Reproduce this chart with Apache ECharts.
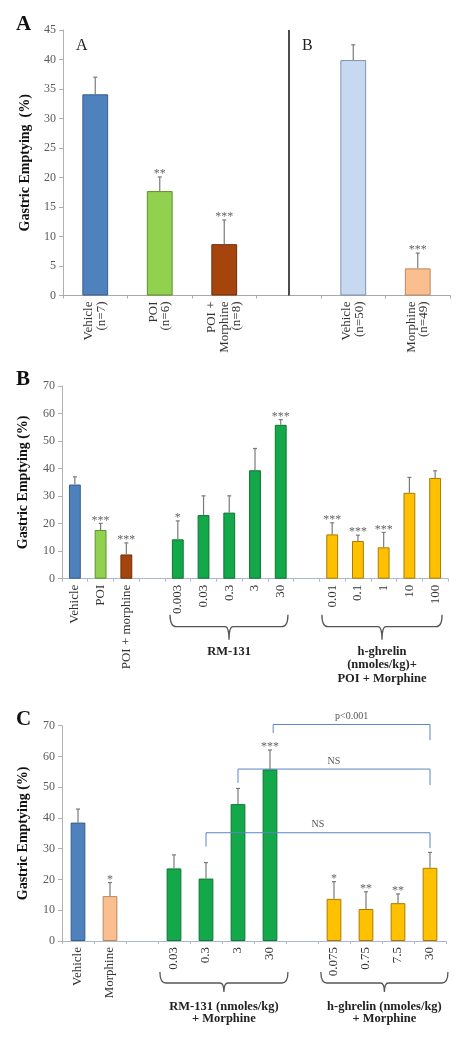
<!DOCTYPE html>
<html><head><meta charset="utf-8">
<script src="https://cdn.jsdelivr.net/npm/echarts@6/dist/echarts.min.js"></script>
<style>html,body{margin:0;padding:0;background:#fff}#c{width:462px;height:1037px}</style>
</head><body><div id="c"></div>
<script>
// ---------- Panel A ----------
const aCategories = ['Vehicle\n(n=7)', 'POI\n(n=6)', 'POI +\nMorphine\n(n=8)', '', 'Vehicle\n(n=50)', 'Morphine\n(n=49)'];
const aMeans = [34.1, 17.7, 8.7, null, 39.9, 4.6];
const aErrTops = [37.0, 20.1, 12.8, null, 42.5, 7.2];
const aSignif = ['', '**', '***', '', '', '***'];
const aYTicks = { min: 0, max: 45, interval: 5 };

// ---------- Panel B ----------
const bCategories = ['Vehicle', 'POI', 'POI + morphine', '', '0.003', '0.03', '0.3', '3', '30', ' ', '0.01', '0.1', '1', '10', '100'];
const bMeans = [34.2, 17.7, 8.8, null, 14.3, 23.1, 24.0, 39.4, 55.9, null, 16.1, 13.7, 11.4, 31.2, 36.6];
const bErrTops = [37.0, 20.1, 13.0, null, 21.0, 30.1, 30.1, 47.3, 57.8, null, 20.3, 15.8, 16.8, 36.8, 39.2];
const bSignif = ['', '***', '***', '', '*', '', '', '', '***', '', '***', '***', '***', '', ''];
const bGroupLabels = ['RM-131', 'h-ghrelin\n(nmoles/kg)+\nPOI + Morphine'];
const bGroupSpans = [[3.7, 8.28], [9.6, 14.27]];
const bYTicks = { min: 0, max: 70, interval: 10 };

// ---------- Panel C ----------
const cCategories = ['Vehicle', 'Morphine', '', '0.03', '0.3', '3', '30', ' ', '0.075', '0.75', '7.5', '30'];
const cMeans = [38.5, 14.6, null, 23.6, 20.3, 44.5, 55.8, null, 13.7, 10.4, 12.3, 23.8];
const cErrTops = [42.9, 19.0, null, 28.0, 25.5, 49.6, 62.1, null, 19.3, 16.0, 15.3, 28.8];
const cSignif = ['', '*', '', '', '', '', '***', '', '*', '**', '**', ''];
const cGroupLabels = ['RM-131 (nmoles/kg)\n+ Morphine', 'h-ghrelin (nmoles/kg)\n+ Morphine'];
const cGroupSpans = [[2.56, 6.56], [7.59, 11.56]];
const cYTicks = { min: 0, max: 70, interval: 10 };
// comparison brackets: [from index, to index, top y, left drop y, right drop y]
const cCompLabels = ['p<0.001', 'NS', 'NS'];
const cComparisons = [[6.1, 11, 70.4, 67.6, 65.3], [5, 11, 55.9, 51.4, 50.7], [4, 11, 35.2, 30.7, 30.2]];

// ---------- styles ----------
const SERIF = '"Liberation Serif", "DejaVu Serif", serif';
const C = {
  blue: ['#4f81bd', '#375d8c'], lgreen: ['#92d050', '#5f8f2e'], brown: ['#a5450d', '#6e2c05'],
  lblue: ['#c6d9f1', '#8093ab'], peach: ['#fbbf8f', '#b88960'], green: ['#13a84a', '#0b7532'],
  yellow: ['#ffc000', '#a67d00']
};
const aStyle = [C.blue, C.lgreen, C.brown, null, C.lblue, C.peach];
const bStyle = [C.blue, C.lgreen, C.brown, null, C.green, C.green, C.green, C.green, C.green, null, C.yellow, C.yellow, C.yellow, C.yellow, C.yellow];
const cStyle = [C.blue, C.peach, null, C.green, C.green, C.green, C.green, null, C.yellow, C.yellow, C.yellow, C.yellow];

// x pixel position for a fractional category position
function xAt(api, v, y) {
  const i = Math.floor(v);
  const p = api.coord([i, y]);
  const w = api.size([1, 0])[0];
  return [p[0] + (v - i) * w, p[1]];
}

function barData(vals, styles) {
  return vals.map((v, i) => v == null ? null : { value: v, itemStyle: { color: styles[i][0], borderColor: styles[i][1], borderWidth: 1 } });
}
function errSeries(idx, means, tops, signif) {
  return {
    type: 'custom', xAxisIndex: idx, yAxisIndex: idx, z: 5,
    data: means.map((m, i) => [i, m == null ? 0 : m, tops[i] == null ? 0 : tops[i]]),
    renderItem: function (params, api) {
      const i = params.dataIndex;
      if (means[i] == null) return null;
      const p1 = api.coord([api.value(0), api.value(1)]);
      const p2 = api.coord([api.value(0), api.value(2)]);
      const ch = [
        { type: 'line', shape: { x1: p1[0], y1: p1[1], x2: p2[0], y2: p2[1] }, style: { stroke: '#7a7a7a', lineWidth: 1.2 } },
        { type: 'line', shape: { x1: p2[0] - 2, y1: p2[1], x2: p2[0] + 2, y2: p2[1] }, style: { stroke: '#7a7a7a', lineWidth: 1.2 } }
      ];
      if (signif[i]) ch.push({ type: 'text', style: { text: signif[i], x: p2[0], y: p2[1] + 3, align: 'center', verticalAlign: 'bottom', fill: '#666', font: '12px ' + SERIF } });
      return { type: 'group', children: ch };
    }
  };
}
function braceSeries(idx, spans, labels, off, lh) {
  return {
    type: 'custom', xAxisIndex: idx, yAxisIndex: idx, clip: false, silent: true,
    data: spans.map(s => [s[0], s[1]]),
    renderItem: function (params, api) {
      const l = xAt(api, api.value(0), 0);
      const r = xAt(api, api.value(1), 0);
      const xl = l[0], xr = r[0], xm = (xl + xr) / 2;
      const y0 = l[1] + off[0], y1 = l[1] + off[1], y2 = l[1] + off[2];
      const d = `M${xl} ${y0} Q${xl} ${y1} ${xl + 6} ${y1} L${xm - 4} ${y1} Q${xm} ${y1} ${xm} ${y2} Q${xm} ${y1} ${xm + 4} ${y1} L${xr - 6} ${y1} Q${xr} ${y1} ${xr} ${y0}`;
      return { type: 'group', children: [
        { type: 'path', shape: { pathData: d }, style: { stroke: '#555', fill: 'none', lineWidth: 1.3 } },
        { type: 'text', style: { text: labels[params.dataIndex], x: xm, y: l[1] + off[3], align: 'center', verticalAlign: 'top', fill: '#222', font: 'bold 12.5px ' + SERIF, lineHeight: lh } }
      ] };
    }
  };
}

const yAxisCommon = (ticks, gap) => ({
  type: 'value', min: ticks.min, max: ticks.max, interval: ticks.interval,
  name: 'Gastric Emptying  (%)', nameLocation: 'middle', nameGap: gap,
  nameTextStyle: { fontFamily: SERIF, fontWeight: 'bold', fontSize: 14, color: '#111' },
  axisLine: { show: true, lineStyle: { color: '#b0b0b0', width: 1 } },
  axisTick: { show: true, length: 4, lineStyle: { color: '#b0b0b0' } },
  splitLine: { show: false },
  axisLabel: { fontFamily: SERIF, fontSize: 12, color: '#5a5a5a', margin: 7 }
});
const xAxisCommon = (idx, cats, color) => ({
  type: 'category', gridIndex: idx, data: cats,
  axisLine: { lineStyle: { color: color, width: 1 } },
  axisTick: { show: true, length: 3, lineStyle: { color: color } },
  axisLabel: { rotate: 90, interval: 0, fontFamily: SERIF, fontSize: 13, color: '#333', margin: 6, lineHeight: 12.5 }
});

const option = {
  animation: false,
  backgroundColor: '#fff',
  title: [
    { text: 'A', left: 11, top: 9, textStyle: { fontFamily: SERIF, fontWeight: 'bold', fontSize: 21, color: '#111' } },
    { text: 'B', left: 11, top: 364, textStyle: { fontFamily: SERIF, fontWeight: 'bold', fontSize: 21, color: '#111' } },
    { text: 'C', left: 11, top: 704, textStyle: { fontFamily: SERIF, fontWeight: 'bold', fontSize: 21, color: '#111' } },
    { text: 'A', left: 71, top: 33, textStyle: { fontFamily: SERIF, fontWeight: 'normal', fontSize: 16, color: '#222' } },
    { text: 'B', left: 297, top: 33, textStyle: { fontFamily: SERIF, fontWeight: 'normal', fontSize: 16, color: '#222' } }
  ],
  grid: [
    { left: 63, top: 30, width: 387, height: 265.5 },
    { left: 62, top: 386, width: 386, height: 192.7 },
    { left: 62, top: 725.7, width: 384, height: 215.3 }
  ],
  xAxis: [
    xAxisCommon(0, aCategories, '#a8a8a8'),
    xAxisCommon(1, bCategories, '#a9b8cf'),
    xAxisCommon(2, cCategories, '#a9b8cf')
  ],
  yAxis: [
    Object.assign(yAxisCommon(aYTicks, 31), { gridIndex: 0 }),
    Object.assign(yAxisCommon(bYTicks, 32), { gridIndex: 1, name: 'Gastric Emptying (%)' }),
    Object.assign(yAxisCommon(cYTicks, 32), { gridIndex: 2, name: 'Gastric Emptying (%)' })
  ],
  series: [
    { type: 'bar', xAxisIndex: 0, yAxisIndex: 0, barWidth: '40%', data: barData(aMeans, aStyle),
      markLine: { silent: true, symbol: 'none', label: { show: false }, lineStyle: { color: '#111', width: 1.5, type: 'solid' }, data: [{ xAxis: 3 }] } },
    errSeries(0, aMeans, aErrTops, aSignif),
    { type: 'bar', xAxisIndex: 1, yAxisIndex: 1, barWidth: '46%', data: barData(bMeans, bStyle) },
    errSeries(1, bMeans, bErrTops, bSignif),
    braceSeries(1, bGroupSpans, bGroupLabels, [36, 48, 61, 66], 13.5),
    { type: 'bar', xAxisIndex: 2, yAxisIndex: 2, barWidth: '46%', data: barData(cMeans, cStyle) },
    errSeries(2, cMeans, cErrTops, cSignif),
    braceSeries(2, cGroupSpans, cGroupLabels, [31, 42, 51, 60], 12),
    {
      type: 'custom', xAxisIndex: 2, yAxisIndex: 2, z: 6, clip: false,
      data: cComparisons,
      renderItem: function (params, api) {
        const a = xAt(api, api.value(0), api.value(2));
        const b = xAt(api, api.value(1), api.value(2));
        const al = xAt(api, api.value(0), api.value(3));
        const br = xAt(api, api.value(1), api.value(4));
        const st = { stroke: '#5b86c2', lineWidth: 1, fill: 'none' };
        return { type: 'group', children: [
          { type: 'polyline', shape: { points: [[al[0], al[1]], [a[0], a[1]], [b[0], b[1]], [br[0], br[1]]] }, style: st },
          { type: 'text', style: { text: cCompLabels[params.dataIndex], x: (a[0] + b[0]) / 2, y: a[1] - 3, align: 'center', verticalAlign: 'bottom', fill: '#555', font: '10px ' + SERIF } }
        ] };
      }
    }
  ]
};
echarts.init(document.getElementById('c')).setOption(option);
</script></body></html>
